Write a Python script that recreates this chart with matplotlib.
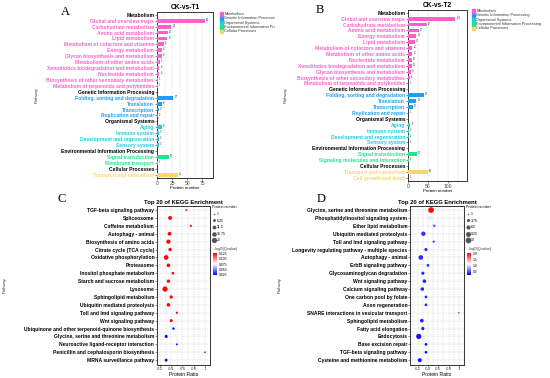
import numpy as np
import matplotlib
matplotlib.use("Agg")
import matplotlib.pyplot as plt
from matplotlib.lines import Line2D

plt.rcParams['font.family'] = ['Liberation Sans', 'DejaVu Sans']

W, H = 550, 378

# --- KEGG level-1 groups ---
groups = ["Metabolism", "Genetic Information Processing", "Organismal Systems",
          "Environmental Information Processing", "Cellular Processes"]
group_colors = ["#FF5FCB", "#1A9FF5", "#1BCFE0", "#22E38A", "#F9D66B"]

# --- Panel A: CK-vs-T1 ---
a_names = ["Global and overview maps", "Carbohydrate metabolism", "Amino acid metabolism",
           "Lipid metabolism", "Metabolism of cofactors and vitamins", "Energy metabolism",
           "Glycan biosynthesis and metabolism", "Metabolism of other amino acids",
           "Xenobiotics biodegradation and metabolism", "Nucleotide metabolism",
           "Biosynthesis of other secondary metabolites", "Metabolism of terpenoids and polyketides",
           "Folding, sorting and degradation", "Translation", "Transcription", "Replication and repair",
           "Aging", "Immune system", "Development and regeneration", "Sensory system",
           "Signal transduction", "Membrane transport",
           "Transport and catabolism"]
a_group = [0]*12 + [1]*4 + [2]*4 + [3]*2 + [4]
a_counts = [80, 24, 18, 17, 11, 8, 8, 5, 4, 4, 1, 1,
            27, 8, 3, 2,
            8, 3, 3, 3,
            20, 1,
            35]

# --- Panel B: CK-vs-T2 ---
b_names = ["Global and overview maps", "Carbohydrate metabolism", "Amino acid metabolism",
           "Energy metabolism", "Lipid metabolism", "Metabolism of cofactors and vitamins",
           "Metabolism of other amino acids", "Nucleotide metabolism",
           "Xenobiotics biodegradation and metabolism", "Glycan biosynthesis and metabolism",
           "Biosynthesis of other secondary metabolites", "Metabolism of terpenoids and polyketides",
           "Folding, sorting and degradation", "Translation", "Transcription", "Replication and repair",
           "Aging", "Immune system", "Development and regeneration", "Sensory system",
           "Signal transduction", "Signaling molecules and interaction",
           "Transport and catabolism", "Cell growth and death"]
b_group = [0]*12 + [1]*4 + [2]*4 + [3]*2 + [4]*2
b_counts = [119, 47, 27, 21, 17, 11, 11, 10, 10, 8, 4, 1,
            39, 21, 12, 1,
            6, 3, 2, 1,
            22, 3,
            50, 1]

# --- Panel C: top 20 KEGG enrichment, T1 ---
c_names = ["TGF-beta signaling pathway", "Spliceosome", "Caffeine metabolism",
           "Autophagy - animal", "Biosynthesis of amino acids", "Citrate cycle (TCA cycle)",
           "Oxidative phosphorylation", "Proteasome", "Inositol phosphate metabolism",
           "Starch and sucrose metabolism", "Lysosome", "Sphingolipid metabolism",
           "Ubiquitin mediated proteolysis", "Toll and Imd signaling pathway", "Wnt signaling pathway",
           "Ubiquinone and other terpenoid-quinone biosynthesis",
           "Glycine, serine and threonine metabolism", "Neuroactive ligand-receptor interaction",
           "Penicillin and cephalosporin biosynthesis", "MRNA surveillance pathway"]
c_ratio = [0.67, 0.38, 0.75, 0.37, 0.35, 0.38, 0.31, 0.35, 0.43, 0.35,
           0.29, 0.40, 0.35, 0.50, 0.40, 0.44, 0.31, 0.50, 1.0, 0.31]
c_count = [2, 12, 3, 11, 14, 9, 18, 10, 5, 9, 22, 8, 10, 3, 7, 4, 7, 2, 1, 6]
c_q = [0.127]*15 + [0.023]*5
c_size_keys = [1, 6.25, 11.5, 16.75, 22]
c_q_ticks = [0.025, 0.05, 0.075, 0.1, 0.125]

# --- Panel D: top 20 KEGG enrichment, T2 ---
d_names = ["Glycine, serine and threonine metabolism", "Phosphatidylinositol signaling system",
           "Ether lipid metabolism", "Ubiquitin mediated proteolysis", "Toll and Imd signaling pathway",
           "Longevity regulating pathway - multiple species", "Autophagy - animal",
           "ErbB signaling pathway", "Glycosaminoglycan degradation", "Wnt signaling pathway",
           "Calcium signaling pathway", "One carbon pool by folate", "Axon regeneration",
           "SNARE interactions in vesicular transport", "Sphingolipid metabolism",
           "Fatty acid elongation", "Endocytosis", "Base excision repair",
           "TGF-beta signaling pathway", "Cysteine and methionine metabolism"]
d_ratio = [0.46, 0.45, 0.52, 0.31, 0.51, 0.36, 0.26, 0.40, 0.30, 0.33,
           0.29, 0.36, 0.36, 1.0, 0.28, 0.30, 0.22, 0.36, 0.36, 0.24]
d_count = [12, 6, 3, 7, 2, 4, 8, 3, 4, 5, 5, 3, 3, 1, 5, 4, 10, 3, 3, 6]
d_q = [2.0, 1.05, 0.6, 0.4, 0.4, 0.4, 0.38, 0.38, 0.38, 0.36,
       0.36, 0.36, 0.36, 0.35, 0.33, 0.33, 0.3, 0.3, 0.3, 0.28]
d_size_keys = [1, 3.75, 6.5, 9.25, 12]
d_q_ticks = [0.5, 1, 1.5, 2]


fig = plt.figure(figsize=(W/100, H/100), dpi=100)


def px_ax(l, t, r, b):
    return fig.add_axes([l/W, 1 - b/H, (r - l)/W, (b - t)/H])


def ftext(x, y, s, **kw):
    return fig.text(x/W, 1 - y/H, s, **kw)


def frame(ax):
    for sp in ax.spines.values():
        sp.set_linewidth(0.7)
        sp.set_color("#333333")
    ax.tick_params(axis='both', length=1.2, width=0.4, pad=0.8, color="#333333")


def bar_panel(ax, names, grp, counts, xmax, xticks, step):
    rows = []
    last = None
    for n, g, c in zip(names, grp, counts):
        if g != last:
            rows.append((groups[g], None, None))
            last = g
        rows.append((n, g, c))
    for i, (lab, g, c) in enumerate(rows):
        if c is not None:
            ax.barh(i, c, height=0.65, color=group_colors[g], zorder=3)
            ax.text(c + xmax*0.02, i - 0.15, str(c), fontsize=1.8, va='center', color="#333333")
    ax.set_yticks(np.arange(len(rows)), [r[0] for r in rows])
    for t, r in zip(ax.get_yticklabels(), rows):
        t.set_color("black" if r[1] is None else group_colors[r[1]])
        t.set_fontweight('bold')
        t.set_fontsize(3.65)
    ax.set_ylim(len(rows) - 1 + 0.55, -0.55)
    ax.set_xlim(0, xmax)
    ax.set_xticks(xticks)
    ax.set_xticks(np.arange(0, xmax, step), minor=True)
    ax.tick_params(axis='x', which='minor', length=0)
    ax.tick_params(axis='x', labelsize=3.6, labelcolor="#444444")
    ax.grid(axis='x', which='both', ls=(0, (3, 3)), lw=0.3, color="#BBBBBB")
    ax.set_axisbelow(True)
    frame(ax)
    ax.set_xlabel("Protein number", fontsize=3.2, labelpad=0.5)


def group_legend(x, y, clip=None):
    for k, (g, col) in enumerate(zip(groups, group_colors)):
        yy = y + k*4.3
        fig.patches.append(plt.Rectangle((x/W, 1 - (yy + 1.6)/H), 3.2/W, 3.2/H,
                                         transform=fig.transFigure, color=col))
        t = ftext(x + 4.3, yy, g, fontsize=2.8, va='center', color="#333333")
        if clip is not None:
            t.set_clip_box(clip)
            t.set_clip_on(True)


def dot_panel(ax, names, ratio, count, q, vmin, vmax, smin, smax):
    y = np.arange(len(names))
    nmin, nmax = min(count), max(count)
    sizes = smin + (np.array(count) - nmin) / (nmax - nmin) * (smax - smin)
    sc = ax.scatter(ratio, y, s=sizes, c=q, cmap='bwr', vmin=vmin, vmax=vmax,
                    edgecolors='none', zorder=3)
    ax.set_yticks(y, names, fontsize=3.6, fontweight='bold')
    ax.set_ylim(len(names) - 1 + 0.55, -0.55)
    ax.set_xticks([0.2, 0.4, 0.6, 0.8, 1.0], ["0.2", "0.4", "0.6", "0.8", "1"])
    ax.set_xticks(np.arange(0.1, 1.11, 0.1), minor=True)
    ax.tick_params(axis='x', which='minor', length=0)
    ax.tick_params(axis='x', labelsize=3.2, labelcolor="#444444")
    ax.grid(which='both', ls=(0, (3, 3)), lw=0.3, color="#BBBBBB")
    ax.set_axisbelow(True)
    frame(ax)
    ax.set_xlabel("Protein Ratio", fontsize=3.6, labelpad=0.5)
    return sc, (nmin, nmax)


# ---- A ----
axA = px_ax(157, 11.5, 213, 178)
bar_panel(axA, a_names, a_group, a_counts, 93, [0, 25, 50, 75], 12.5)
axA.set_title("CK-vs-T1", fontsize=4.8, fontweight='bold', pad=1.5)
ftext(37, 95, "Pathway", fontsize=3, rotation=90, va='center', ha='center', color="#333333")
ftext(65, 12, "A", fontsize=9, family='Liberation Serif', va='center', ha='center')
clipA = matplotlib.transforms.Bbox([[0, 0], [275, H]])
group_legend(220, 14, clip=clipA)

# ---- B ----
axB = px_ax(408, 9.5, 467, 181)
bar_panel(axB, b_names, b_group, b_counts, 148, [0, 50, 100], 25)
axB.set_title("CK-vs-T2", fontsize=4.8, fontweight='bold', pad=1.5)
ftext(286, 95, "Pathway", fontsize=3, rotation=90, va='center', ha='center', color="#333333")
ftext(320, 10, "B", fontsize=9, family='Liberation Serif', va='center', ha='center')
group_legend(472, 11)


def size_legend(ax, keys, nrange, smin, smax, x, y):
    nmin, nmax = nrange
    hs = []
    for k in keys:
        s = smin + (k - nmin) / (nmax - nmin) * (smax - smin)
        hs.append(Line2D([], [], ls='', marker='o', markersize=np.sqrt(s),
                         color="#555555", mec='none', label=f"{k:g}"))
    leg = ax.legend(handles=hs, title="Protein number", loc='upper left',
                    bbox_to_anchor=(x/W, 1 - y/H), bbox_transform=fig.transFigure,
                    frameon=False, fontsize=2.6, title_fontsize=2.6, handlelength=1.0,
                    handletextpad=0.4, labelspacing=0.72, borderaxespad=0, borderpad=0)
    leg._legend_box.align = "left"


def q_bar(sc, ticks, x, y):
    cax = px_ax(x, y + 4, x + 4, y + 26)
    cb = fig.colorbar(sc, cax=cax, ticks=ticks)
    cb.outline.set_visible(False)
    cax.tick_params(labelsize=2.4, length=0, pad=1)
    ftext(x, y, r"-log$_{10}$(Qvalue)", fontsize=2.6, va='center', color="#333333")


# ---- C ----
axC = px_ax(157, 205.7, 210, 364.5)
scC, nrC = dot_panel(axC, c_names, c_ratio, c_count, c_q, 0.022, 0.128, 1.2, 14)
axC.set_xlim(0.147, 1.09)
axC.set_title("Top 20 of KEGG Enrichment", fontsize=4.2, fontweight='bold', pad=1.5)
ftext(5, 285, "Pathway", fontsize=3, rotation=90, va='center', ha='center', color="#333333")
ftext(62, 199, "C", fontsize=9, family='Liberation Serif', va='center', ha='center')
size_legend(axC, c_size_keys, nrC, 1.2, 14, 212, 205.5)
q_bar(scC, c_q_ticks, 213, 249)

# ---- D ----
axD = px_ax(410, 205.7, 464, 364.5)
scD, nrD = dot_panel(axD, d_names, d_ratio, d_count, d_q, 0.23, 2.03, 1.0, 17)
axD.set_xlim(0.05, 1.1)
axD.set_title("Top 20 of KEGG Enrichment", fontsize=4.2, fontweight='bold', pad=1.5)
ftext(280, 285, "Pathway", fontsize=3, rotation=90, va='center', ha='center', color="#333333")
ftext(321, 199, "D", fontsize=9, family='Liberation Serif', va='center', ha='center')
size_legend(axD, d_size_keys, nrD, 1.0, 17, 466, 205.5)
q_bar(scD, d_q_ticks, 467, 249)

fig.savefig("out.png", dpi=100)
